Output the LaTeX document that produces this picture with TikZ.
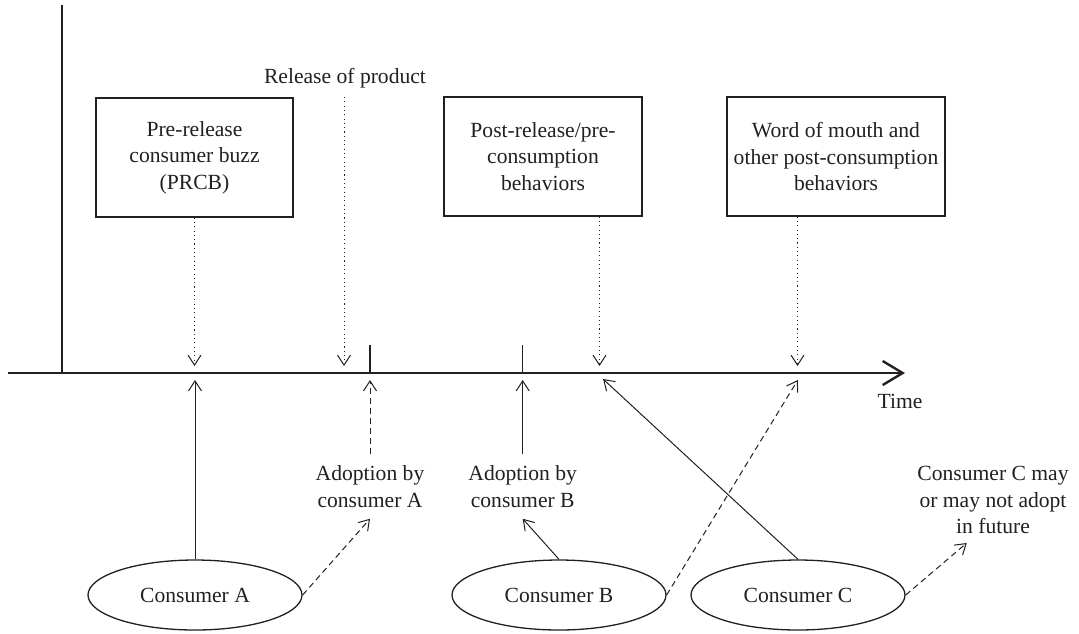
\documentclass[tikz,border=0pt]{standalone}
\usepackage{fontspec}
\setmainfont{Liberation Serif}
\usetikzlibrary{arrows.meta,shapes.geometric}
\definecolor{ink}{HTML}{231F20}
\begin{document}
\begin{tikzpicture}[x=0.5pt,y=-0.5pt,
  every node/.style={font=\fontsize{10.8}{13.25}\selectfont, text=ink},
  box/.style={draw=ink, line width=0.65pt, align=center, inner sep=0pt, minimum height=59.5pt},
  oval/.style={draw=ink, ellipse, line width=0.65pt, minimum width=107pt, minimum height=35pt, inner sep=0pt},
  lbl/.style={align=center, inner xsep=0pt, inner ysep=5.5pt},
  con/.style={draw=ink, line width=0.5pt, -{Straight Barb[length=5pt,width=6.5pt]}},
  dots/.style={dash pattern=on 0.55pt off 1.6pt},
  dsh/.style={dash pattern=on 3pt off 2pt},
  axisline/.style={draw=ink, line width=1.2pt},
  tick/.style={draw=ink, line width=0.65pt}]
\useasboundingbox (0,0) rectangle (1079,633);

% axes
\coordinate (o) at (62,373);
\coordinate (top) at (62,5);
\coordinate (axL) at (8,373);
\coordinate (axR) at (905,373);
\draw[axisline] (o) -- (top);
\draw[axisline, -{Straight Barb[length=10pt,width=12pt]}] (axL) -- (axR);
\node (time) at (900,401) {Time};

% ticks
\coordinate (t1) at (370,373);
\coordinate (t1u) at (370,345);
\coordinate (t2) at (522.7,373);
\coordinate (t2u) at (522.7,345);
\draw[tick] (t1) -- (t1u);
\draw[tick] (t2) -- (t2u);

% boxes
\node[box, minimum width=98.5pt] (b1) at (194.5,157.5) {Pre-release\\consumer buzz\\(PRCB)};
\node[box, minimum width=99pt] (b2) at (543,156.5) {Post-release/pre-\\consumption\\behaviors};
\node[box, minimum width=109pt] (b3) at (836,156.5) {Word of mouth and\\other post-consumption\\behaviors};
\node (rel) at (345,78) {Release of product};
\coordinate (relA) at (344,97);

% targets above axis
\coordinate (a1top) at (194.5,366);
\coordinate (a2top) at (344,366);
\coordinate (a3top) at (599.5,366);
\coordinate (a4top) at (797.5,366);
% targets below axis
\coordinate (a1bot) at (195,380);
\coordinate (t1bot) at (370,380);
\coordinate (t2bot) at (522.7,380);
\coordinate (pbbot) at (603,379);
\coordinate (a4bot) at (797.8,380);
\coordinate (cfut) at (966.7,543);

\draw[con,dots] (b1.south) -- (a1top);
\draw[con,dots] (relA) -- (a2top);
\draw[con,dots] (b2.south -| a3top) -- (a3top);
\draw[con,dots] (b3.south -| a4top) -- (a4top);

% consumers
\node[oval] (cA) at (195,595) {Consumer A};
\node[oval] (cB) at (559,595) {Consumer B};
\node[oval] (cC) at (798,595) {Consumer C};

% labels
\node[lbl] (lA) at (370,486.5) {Adoption by\\consumer A};
\node[lbl] (lB) at (522.7,486.5) {Adoption by\\consumer B};
\node[align=center] (lC) at (993,500) {Consumer C may\\or may not adopt\\in future};

% connectors
\draw[con] (cA.north) -- (a1bot);
\draw[con,dsh] (lA.north) -- (t1bot);
\draw[con] (lB.north) -- (t2bot);
\draw[con,dsh] (cA.east) -- (lA.south);
\draw[con] (cB.north) -- (lB.south);
\draw[con,dsh] (cB.east) -- (a4bot);
\draw[con] (cC.north) -- (pbbot);
\draw[con,dsh] (cC.east) -- (cfut);
\end{tikzpicture}
\end{document}
